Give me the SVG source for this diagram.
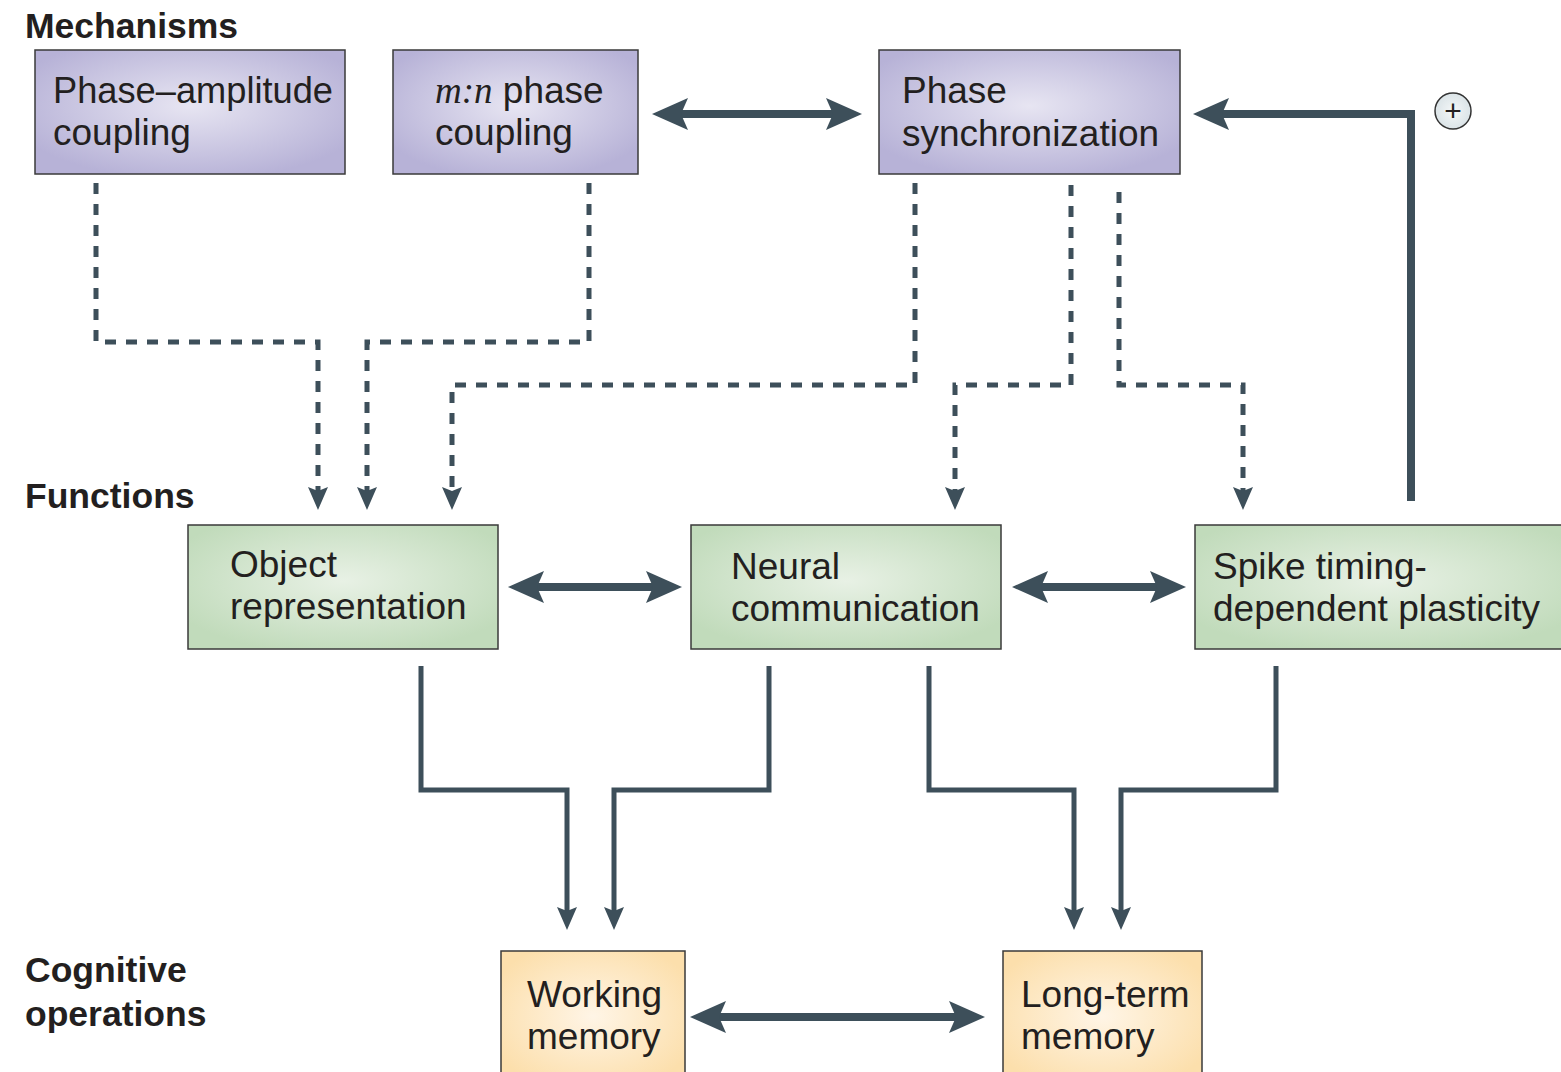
<svg xmlns="http://www.w3.org/2000/svg" width="1561" height="1072" viewBox="0 0 1561 1072">
<defs>
<radialGradient id="gP" cx="0.5" cy="0.45" r="0.6"><stop offset="0" stop-color="#e7e5f2"/><stop offset="1" stop-color="#b7b2d7"/></radialGradient>
<radialGradient id="gG" cx="0.5" cy="0.45" r="0.6"><stop offset="0" stop-color="#e8f1e5"/><stop offset="1" stop-color="#c1dbbb"/></radialGradient>
<radialGradient id="gO" cx="0.5" cy="0.5" r="0.6"><stop offset="0" stop-color="#fff5e6"/><stop offset="1" stop-color="#fcdfac"/></radialGradient>
<radialGradient id="gC" cx="0.5" cy="0.5" r="0.6"><stop offset="0" stop-color="#f4f7f8"/><stop offset="1" stop-color="#d6e0e4"/></radialGradient>
<marker id="big" markerUnits="userSpaceOnUse" markerWidth="40" markerHeight="40" viewBox="0 -20 40 40" refX="10" refY="0" orient="auto-start-reverse">
<path d="M0,-16 L36,0 L0,16 L7,0 Z" fill="#3d4f5a"/>
</marker>
<marker id="small" markerUnits="userSpaceOnUse" markerWidth="30" markerHeight="30" viewBox="0 -15 30 30" refX="6" refY="0" orient="auto">
<path d="M0,-10 L23,0 L0,10 L4,0 Z" fill="#3d4f5a"/>
</marker>
</defs>
<style>
.lbl{font-family:"Liberation Sans",Arial,sans-serif;font-weight:bold;font-size:35.5px;fill:#231f20}
.t{font-family:"Liberation Sans",Arial,sans-serif;font-size:37px;fill:#231f20}
.box{stroke:#3a3a3a;stroke-width:1.5}
.thick{fill:none;stroke:#3d4f5a;stroke-width:8;stroke-linejoin:miter}
.dash{fill:none;stroke:#3d4f5a;stroke-width:5;stroke-dasharray:11 10;marker-end:url(#small)}
.solid{fill:none;stroke:#3d4f5a;stroke-width:5;marker-end:url(#small)}
</style>
<rect width="1561" height="1072" fill="#ffffff"/>
<text class="lbl" x="25" y="38">Mechanisms</text>
<text class="lbl" x="25" y="508">Functions</text>
<text class="lbl" x="25" y="982">Cognitive</text>
<text class="lbl" x="25" y="1026">operations</text>

<g id="pac">
<rect class="box" x="35" y="50" width="310" height="124" fill="url(#gP)"/>
<text class="t" x="53" y="103" textLength="280" lengthAdjust="spacingAndGlyphs">Phase–amplitude</text>
<text class="t" x="53" y="145">coupling</text>
</g>
<g id="mn">
<rect class="box" x="393" y="50" width="245" height="124" fill="url(#gP)"/>
<text class="t" x="435" y="103"><tspan font-family="'Liberation Serif',serif" font-style="italic">m:n</tspan> phase</text>
<text class="t" x="435" y="145">coupling</text>
</g>
<g id="ps">
<rect class="box" x="879" y="50" width="301" height="124" fill="url(#gP)"/>
<text class="t" x="902" y="103">Phase</text>
<text class="t" x="902" y="146">synchronization</text>
</g>
<g id="obj">
<rect class="box" x="188" y="525" width="310" height="124" fill="url(#gG)"/>
<text class="t" x="230" y="577">Object</text>
<text class="t" x="230" y="619">representation</text>
</g>
<g id="neural">
<rect class="box" x="691" y="525" width="310" height="124" fill="url(#gG)"/>
<text class="t" x="731" y="579">Neural</text>
<text class="t" x="731" y="621">communication</text>
</g>
<g id="stdp">
<rect class="box" x="1195" y="525" width="372" height="124" fill="url(#gG)"/>
<text class="t" x="1213" y="579">Spike timing-</text>
<text class="t" x="1213" y="621">dependent plasticity</text>
</g>
<g id="wm">
<rect class="box" x="501" y="951" width="184" height="130" fill="url(#gO)"/>
<text class="t" x="527" y="1007">Working</text>
<text class="t" x="527" y="1049">memory</text>
</g>
<g id="ltm">
<rect class="box" x="1003" y="951" width="199" height="130" fill="url(#gO)"/>
<text class="t" x="1021" y="1007">Long-term</text>
<text class="t" x="1021" y="1049">memory</text>
</g>
<g id="plus">
<circle cx="1453" cy="111" r="18" fill="url(#gC)" stroke="#333" stroke-width="1.5"/>
<text x="1453" y="121" text-anchor="middle" font-family="'Liberation Sans',sans-serif" font-size="30" fill="#231f20">+</text>
</g>

<g id="connectors">
<line class="thick" x1="678" y1="114" x2="836" y2="114" marker-start="url(#big)" marker-end="url(#big)"/>
<path class="thick" d="M1411,501 V114 H1219" marker-end="url(#big)"/>
<line class="thick" x1="534" y1="587" x2="656" y2="587" marker-start="url(#big)" marker-end="url(#big)"/>
<line class="thick" x1="1038" y1="587" x2="1160" y2="587" marker-start="url(#big)" marker-end="url(#big)"/>
<line class="thick" x1="716" y1="1017" x2="959" y2="1017" marker-start="url(#big)" marker-end="url(#big)"/>

<path class="dash" d="M96,183 V342 H318 V493"/>
<path class="dash" d="M589,183 V342 H367 V493"/>
<path class="dash" d="M915,183 V385 H452 V493"/>
<path class="dash" d="M1071,185 V385 H955 V493"/>
<path class="dash" d="M1119,192 V385 H1243 V493"/>

<path class="solid" d="M421,666 V790 H567 V913"/>
<path class="solid" d="M769,666 V790 H614 V913"/>
<path class="solid" d="M929,666 V790 H1074 V913"/>
<path class="solid" d="M1276,666 V790 H1121 V913"/>
</g>
</svg>
